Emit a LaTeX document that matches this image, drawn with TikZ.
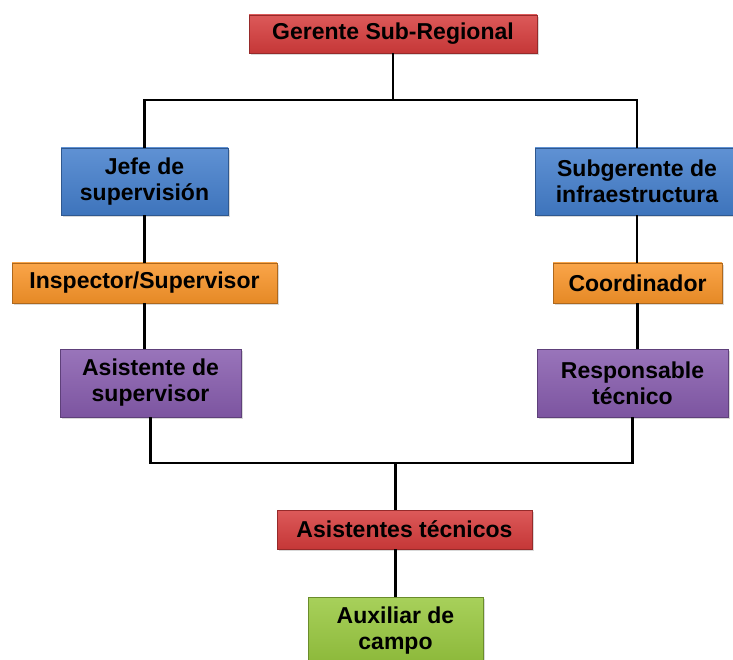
\documentclass[tikz,border=0pt]{standalone}
\usepackage{fontspec}
\setmainfont{Liberation Sans}
\usetikzlibrary{shadows}
\definecolor{rojo}{HTML}{D63C3C}
\definecolor{azul}{HTML}{437ECC}
\definecolor{naranja}{HTML}{F99529}
\definecolor{morado}{HTML}{875CAE}
\definecolor{verde}{HTML}{98C83E}
\tikzset{
  cargo/.style={draw=#1!70!black, line width=0.8pt, top color=#1!85!white,
    bottom color=#1!92!black, text=black, align=center, inner sep=0pt,
    font=\fontsize{23}{26}\selectfont\bfseries,
    drop shadow={opacity=0.3, shadow xshift=1.5pt, shadow yshift=-2pt}},
  linea/.style={line width=2.6pt}
}
\begin{document}
\begin{tikzpicture}[x=1pt,y=-1pt]
  \useasboundingbox (0,0) rectangle (733,660);
  \node[cargo=rojo, minimum width=288, minimum height=38] (ger) at (393,34) {Gerente Sub-Regional};
  \node[cargo=azul, minimum width=167, minimum height=67] (jefe) at (144.5,181.5) {Jefe de\\supervisión};
  \node[cargo=naranja, minimum width=265, minimum height=40] (insp) at (144.5,283) {Inspector/Supervisor};
  \node[cargo=morado, minimum width=181, minimum height=68] (asis) at (150.5,383) {Asistente de\\supervisor};
  \node[cargo=azul, minimum width=204, minimum height=67] (sub) at (637,181.5) {Subgerente de\\infraestructura};
  \node[cargo=naranja, minimum width=169, minimum height=40] (coord) at (637.5,283) {Coordinador};
  \node[cargo=morado, minimum width=191, minimum height=68] (resp) at (632.5,383) {Responsable\\técnico};
  \node[cargo=rojo, minimum width=255, minimum height=39] (asit) at (404.5,529.5) {Asistentes técnicos};
  \node[cargo=verde, minimum width=175, minimum height=68] (aux) at (395.5,631) {Auxiliar de\\campo};
  \coordinate (bus1) at (393,100);
  \coordinate (bus2) at (395.5,463);
  \draw[linea] (ger.south) -- (bus1);
  \draw[linea] (jefe.north) |- (bus1) -| (sub.north);
  \draw[linea] (jefe.south) -- (insp.north);
  \draw[linea] (insp.south) -- (insp.south |- asis.north);
  \draw[linea] (sub.south) -- (sub.south |- coord.north);
  \draw[linea] (coord.south) -- (coord.south |- resp.north);
  \draw[linea] (asis.south) |- (bus2) -| (resp.south);
  \draw[linea] (bus2) -- (bus2 |- asit.north);
  \draw[linea] (aux.north) -- (aux.north |- asit.south);
\end{tikzpicture}
\end{document}
